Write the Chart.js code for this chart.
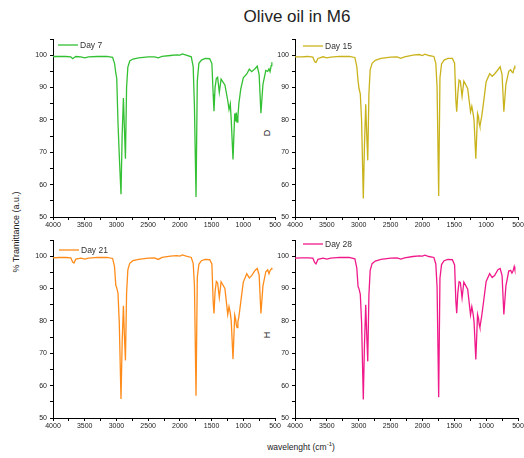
<!DOCTYPE html>
<html>
<head>
<meta charset="utf-8">
<title>Olive oil in M6</title>
<script src="https://cdn.jsdelivr.net/npm/chart.js@4.4.0/dist/chart.umd.min.js"></script>
<style>
    html, body { margin: 0; padding: 0; background: #fff; }
    #wrap { position: relative; width: 524px; height: 458px; overflow: hidden;
            font-family: "Liberation Sans", Arial, sans-serif; color: #222; }
    #wrap canvas { position: absolute; }
    .lbl { position: absolute; white-space: nowrap; transform: translate(-50%, -50%); line-height: 1; }
    .rot { transform: translate(-50%, -50%) rotate(-90deg); }
</style>
</head>
<body>
<div id="wrap">
    <div class="lbl" style="left:297px; top:16px; font-size:17px;">Olive oil in M6</div>
    <div class="lbl rot" style="left:16px; top:232px; font-size:9px;">% Tramittance (a.u.)</div>
    <div class="lbl" style="left:301px; top:446px; font-size:8.5px;">wavelenght (cm<sup style="font-size:6px">-1</sup>)</div>
    <div class="lbl rot" style="left:267px; top:133px; font-size:9px;">D</div>
    <div class="lbl rot" style="left:267px; top:335px; font-size:9px;">H</div>

    <canvas id="c7" width="290" height="205" style="left:0; top:29px;"></canvas>
    <canvas id="c15" width="262" height="205" style="left:262px; top:29px;"></canvas>
    <canvas id="c21" width="290" height="205" style="left:0; top:230px;"></canvas>
    <canvas id="c28" width="262" height="205" style="left:262px; top:230px;"></canvas>
</div>
<script>
// --- Data (wavenumber in cm-1, transmittance in %) ---
const wavenumbers = [
    4000, 3900, 3800, 3720, 3690, 3670, 3640, 3560, 3500, 3440,
    3300, 3150, 3060, 3030, 3010, 2995, 2975, 2955, 2928, 2910,
    2890, 2875, 2858, 2840, 2820, 2790, 2740, 2650, 2500, 2400,
    2340, 2280, 2150, 2050, 2000, 1960, 1900, 1820, 1790, 1770,
    1745, 1725, 1700, 1660, 1600, 1530, 1495, 1475, 1462, 1445,
    1425, 1405, 1378, 1350, 1290, 1245, 1225, 1205, 1190, 1162,
    1135, 1120, 1110, 1098, 1085, 1070, 1040, 1000, 945, 905,
    868, 815, 780, 750, 722, 690, 645, 615, 595, 578,
    560, 550
];

const day7 = [
    99.6, 99.6, 99.6, 99.5, 98.9, 99.2, 99.6, 99.5, 99.2, 99.5,
    99.6, 99.6, 99.3, 97.5, 94.5, 92.8, 79.0, 69.0, 57.0, 75.0,
    86.8, 78.0, 68.0, 90.0, 96.3, 98.2, 98.8, 99.2, 99.5, 99.5,
    99.2, 99.6, 99.9, 100.1, 100.0, 100.4, 100.0, 99.5, 96.5, 84.0,
    56.2, 92.0, 97.5, 98.5, 99.0, 98.9, 97.4, 88.0, 82.7, 90.0,
    92.8, 93.2, 88.5, 92.6, 90.8, 86.0, 83.2, 85.0, 80.0, 67.8,
    82.0, 79.5, 82.3, 79.3, 81.0, 85.0, 89.5, 93.0, 94.2, 95.7,
    94.9, 95.8, 96.6, 94.0, 82.1, 91.0, 95.3, 95.0, 95.8, 94.9,
    96.8, 97.8
];

const day15 = [
    99.5, 99.5, 99.6, 99.4, 98.0, 97.8, 99.0, 99.5, 99.2, 99.4,
    99.6, 99.6, 99.3, 96.5, 92.0, 89.7, 88.0, 79.9, 55.7, 72.0,
    84.8, 76.0, 67.5, 88.0, 95.5, 97.5, 98.4, 99.0, 99.4, 99.5,
    99.0, 99.5, 100.0, 100.2, 99.9, 100.3, 99.9, 99.6, 97.5, 90.0,
    56.5, 93.0, 97.3, 98.5, 99.0, 99.0, 97.5, 86.0, 82.5, 88.0,
    92.3, 92.0, 87.3, 92.0, 89.7, 82.5, 84.2, 82.0, 79.9, 68.0,
    82.0, 81.0, 79.0, 78.0, 79.5, 81.0, 85.5, 91.8, 94.3, 93.5,
    94.2, 95.5, 96.4, 94.0, 82.5, 91.0, 95.0, 95.5, 94.8, 94.6,
    96.0, 96.8
];

const day21 = [
    99.5, 99.6, 99.6, 99.5, 98.2, 97.9, 99.1, 99.4, 99.1, 99.4,
    99.6, 99.6, 99.3, 96.8, 91.0, 90.2, 88.5, 79.4, 55.9, 73.0,
    84.7, 76.0, 67.8, 88.5, 95.8, 97.8, 98.6, 99.0, 99.4, 99.5,
    99.0, 99.6, 100.0, 100.2, 100.0, 100.4, 100.0, 99.6, 97.8, 91.0,
    56.9, 93.5, 97.5, 98.6, 99.0, 98.9, 97.6, 86.0, 82.3, 89.0,
    92.2, 91.8, 87.2, 92.1, 90.0, 82.0, 84.4, 82.5, 80.0, 68.2,
    81.8, 80.5, 78.8, 77.9, 79.8, 81.2, 85.8, 92.0, 94.6, 93.3,
    94.0, 95.6, 96.2, 94.2, 82.3, 90.8, 95.2, 95.8, 94.6, 95.5,
    96.0, 96.4
];

const day28 = [
    99.4, 99.5, 99.5, 99.4, 98.0, 97.6, 99.0, 99.4, 99.1, 99.4,
    99.6, 99.6, 99.2, 96.3, 90.6, 89.9, 88.2, 79.6, 55.7, 72.5,
    85.0, 76.2, 67.5, 88.0, 95.6, 97.7, 98.5, 99.0, 99.4, 99.5,
    99.1, 99.5, 99.9, 100.1, 100.0, 100.3, 99.9, 99.6, 97.6, 90.5,
    56.4, 93.2, 97.4, 98.6, 99.0, 98.9, 97.3, 86.0, 82.4, 88.5,
    92.1, 91.9, 87.1, 92.0, 89.8, 81.9, 84.4, 82.2, 79.8, 68.1,
    82.0, 80.8, 79.0, 78.0, 79.6, 81.5, 86.0, 92.2, 94.6, 93.4,
    94.0, 95.8, 96.2, 94.0, 82.0, 90.8, 95.4, 95.6, 94.8, 95.4,
    96.8, 95.9
];

Chart.defaults.font.family = '"Liberation Sans", Arial, sans-serif';

// legend drawn inside the plot, top-left corner (like Origin)
const cornerLegend = {
    id: 'cornerLegend',
    afterDatasetsDraw(chart, args, opts) {
        const { ctx, chartArea } = chart;
        const ds = chart.data.datasets[0];
        const x = chartArea.left + opts.dx, y = chartArea.top + opts.dy;
        ctx.save();
        ctx.strokeStyle = ds.borderColor;
        ctx.lineWidth = 1.3;
        ctx.beginPath();
        ctx.moveTo(x, y);
        ctx.lineTo(x + 20, y);
        ctx.stroke();
        ctx.fillStyle = '#333';
        ctx.font = '8.5px "Liberation Sans", Arial, sans-serif';
        ctx.textBaseline = 'middle';
        ctx.fillText(ds.label, x + 22, y + 0.5);
        ctx.restore();
    }
};

const makePanel = (p) => {
    new Chart(document.getElementById(p.id), {
        type: 'line',
        data: {
            datasets: [{
                label: p.label,
                data: wavenumbers.map((w, i) => ({ x: w, y: p.values[i] })),
                borderColor: p.color,
                borderWidth: 1.3,
                pointRadius: 0,
                tension: 0,
                fill: false
            }]
        },
        options: {
            responsive: false,
            animation: false,
            layout: { padding: { left: 0, right: p.padRight, top: 10, bottom: 0 } },
            plugins: {
                legend: { display: false },
                tooltip: { enabled: false },
                cornerLegend: { dx: p.leg[0], dy: p.leg[1] }
            },
            scales: {
                x: {
                    type: 'linear',
                    reverse: true,
                    min: 500,
                    max: 4000,
                    ticks: {
                        stepSize: 250,
                        autoSkip: false,
                        maxRotation: 0,
                        padding: 1,
                        color: '#222',
                        font: { size: 7 },
                        callback: (v) => (v % 500 === 0 ? v : '')
                    },
                    grid: { drawOnChartArea: false, tickLength: 3, color: '#000' },
                    border: { color: '#000', width: 1 },
                    afterFit: (s) => { s.height = 17; s.paddingLeft = 0; s.paddingRight = 0; }
                },
                y: {
                    min: 50,
                    max: 105,
                    ticks: {
                        stepSize: 5,
                        padding: 3,
                        color: '#222',
                        font: { size: 7 },
                        callback: (v) => (v % 10 === 0 && v <= 100 ? v : '')
                    },
                    grid: { drawOnChartArea: false, tickLength: 3, color: '#000' },
                    border: { color: '#000', width: 1 },
                    afterFit: (s) => { s.width = p.yWidth; s.paddingTop = 0; s.paddingBottom = 0; }
                }
            }
        },
        plugins: [cornerLegend]
    });
};

const panels = [
    { id: 'c7',  label: 'Day 7',  values: day7,  color: '#33c033', yWidth: 53, padRight: 15, leg: [5, 6] },
    { id: 'c15', label: 'Day 15', values: day15, color: '#c9b31c', yWidth: 33, padRight: 6,  leg: [8, 7] },
    { id: 'c21', label: 'Day 21', values: day21, color: '#ff8c1a', yWidth: 53, padRight: 15, leg: [6, 10] },
    { id: 'c28', label: 'Day 28', values: day28, color: '#f0198a', yWidth: 33, padRight: 6,  leg: [8, 4] }
];

panels.forEach(makePanel);
</script>
</body>
</html>
